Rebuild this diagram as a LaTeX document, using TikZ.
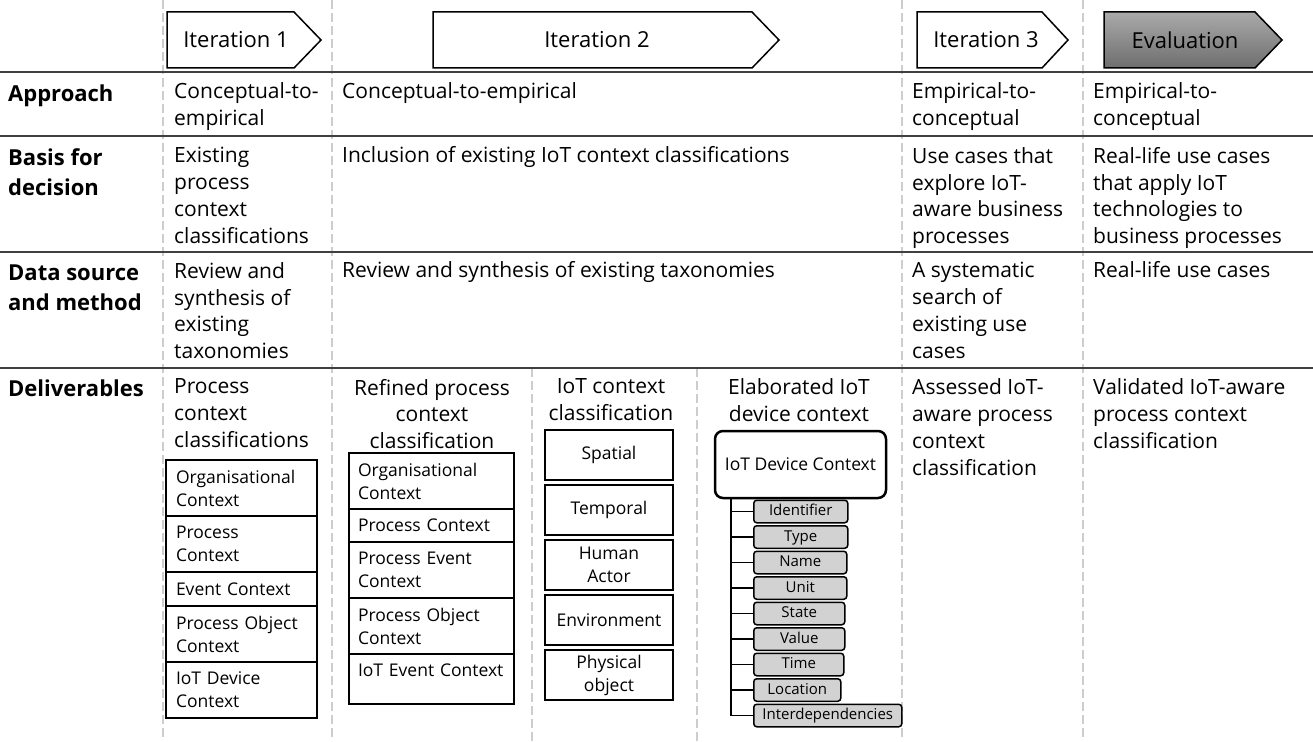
\documentclass[tikz,border=0pt]{standalone}
\usepackage{fontspec}
\setmainfont{Open Sans}
\usepackage{xcolor}
\definecolor{rule_gray}{RGB}{64,64,64}
\definecolor{dash_gray}{RGB}{205,205,205}
\definecolor{leaf_gray}{RGB}{210,210,210}
\definecolor{eval_top}{RGB}{170,170,170}
\definecolor{eval_bottom}{RGB}{110,110,110}
\usepackage{tikz}
\usetikzlibrary{positioning}

\tikzset{
  cell/.style={anchor=north west, inner sep=0pt, align=left, font=\fontsize{21}{26.7}\selectfont, execute at begin node=\strut},
  celltitle/.style={cell, anchor=north, align=center},
  rowlabel/.style={anchor=north west, inner sep=0pt, align=left, font=\bfseries\fontsize{22}{30}\selectfont, execute at begin node=\strut},
  stage/.style={draw=black, line width=1.5pt, fill=white},
  stagetext/.style={inner sep=0pt, font=\fontsize{22}{26}\selectfont},
  itembox/.style={draw, line width=1.3pt, outer sep=0pt, inner xsep=10pt, inner ysep=0pt, align=left, font=\fontsize{17.5}{23}\selectfont},
  pcc/.style={itembox, text width=131pt},
  rpc/.style={itembox, inner xsep=9pt, text width=147pt},
  iotbox/.style={draw, line width=2pt, outer sep=0pt, inner sep=0pt, minimum width=128pt, minimum height=50pt, align=center, font=\fontsize{17.5}{23}\selectfont},
  rootbox/.style={draw, line width=2.5pt, rounded corners=8pt, minimum width=171pt, minimum height=67pt, inner sep=0pt, font=\fontsize{17.5}{23}\selectfont},
  leaf/.style={draw, fill=leaf_gray, line width=1.5pt, rounded corners=3pt, anchor=west, minimum height=22.5pt, inner sep=0pt, text height=11pt, text depth=3pt, font=\fontsize{15}{18}\selectfont},
  branch/.style={line width=1.5pt},
  hrule/.style={draw=rule_gray, line width=2pt},
  vdash/.style={draw=dash_gray, line width=2.5pt, dash pattern=on 9pt off 4pt}
}

\begin{document}
\begin{tikzpicture}[x=1pt, y=-1pt]
\useasboundingbox (0,0) rectangle (1313,741);

% column separators
\foreach \x in {163,332,902,1083}
  \draw[vdash] (\x,0) -- (\x,741);
\foreach \x in {532,697}
  \draw[vdash] (\x,368) -- (\x,741);

% row separators
\foreach \y in {72,136,252,368}
  \draw[hrule] (0,\y) -- (1313,\y);

% stages
\draw[stage] (167,12) -- (294,12) -- (321,40) -- (294,68) -- (167,68) -- cycle;
\node[stagetext] (it1) at (236,40) {Iteration 1};
\draw[stage] (433,12) -- (752,12) -- (779,40) -- (752,68) -- (433,68) -- cycle;
\node[stagetext] (it2) at (597,40) {Iteration 2};
\draw[stage] (917,12) -- (1042,12) -- (1068,40) -- (1042,68) -- (917,68) -- cycle;
\node[stagetext] (it3) at (986,40) {Iteration 3};
\draw[stage, top color=eval_top, bottom color=eval_bottom] (1104,12) -- (1255,12) -- (1282,40) -- (1255,68) -- (1104,68) -- cycle;
\node[stagetext] (eval) at (1185,40) {Evaluation};

% row labels
\node[rowlabel] (approach) at (8,80) {Approach};
\node[rowlabel] (basis) at (8,148) {Basis for\\decision};
\node[rowlabel] (datasrc) at (8,265) {Data source\\and method};
\node[rowlabel] (deliv) at (8,375) {Deliverables};

% approach
\node[cell] (ap1) at (174,82.5) {Conceptual-to-\\empirical};
\node[cell] (ap2) at (342,79.3) {Conceptual-to-empirical};
\node[cell] (ap3) at (912,82.5) {Empirical-to-\\conceptual};
\node[cell] (ap4) at (1093,82.5) {Empirical-to-\\conceptual};

% basis for decision
\node[cell] (bd1) at (174,147.3) {Existing\\process\\context\\classifications};
\node[cell] (bd2) at (342,144.1) {Inclusion of existing IoT context classifications};
\node[cell] (bd3) at (912,147.3) {Use cases that\\explore IoT-\\aware business\\processes};
\node[cell] (bd4) at (1093,147.3) {Real-life use cases\\that apply IoT\\technologies to\\business processes};

% data source and method
\node[cell] (ds1) at (174,262.3) {Review and\\synthesis of\\existing\\taxonomies};
\node[cell] (ds2) at (342,259.1) {Review and synthesis of existing taxonomies};
\node[cell] (ds3) at (912,262.3) {A systematic\\search of\\existing use\\cases};
\node[cell] (ds4) at (1093,259.1) {Real-life use cases};

% deliverables
\node[cell] (dl1) at (174,378.8) {Process\\context\\classifications};
\node[celltitle] (dl2) at (432,378.8) {Refined process\\context\\classification};
\node[celltitle] (dl3) at (611,378.8) {IoT context\\classification};
\node[celltitle] (dl4) at (799,378.8) {Elaborated IoT\\device context};
\node[cell] (dl5) at (912,378.8) {Assessed IoT-\\aware process\\context\\classification};
\node[cell] (dl6) at (1093,378.8) {Validated IoT-aware\\process context\\classification};

% process context classifications
\node[pcc, minimum height=56pt, anchor=north west] (pcc1) at (166,460) {Organisational\\Context};
\node[pcc, minimum height=56pt, below=0pt of pcc1] (pcc2) {Process\\Context};
\node[pcc, minimum height=34pt, below=0pt of pcc2] (pcc3) {Event Context};
\node[pcc, minimum height=56pt, below=0pt of pcc3] (pcc4) {Process Object\\Context};
\node[pcc, minimum height=56pt, below=0pt of pcc4] (pcc5) {IoT Device\\Context};

% refined process context classification
\node[rpc, minimum height=56pt, anchor=north west] (rpc1) at (349,453) {Organisational\\Context};
\node[rpc, minimum height=33pt, below=0pt of rpc1] (rpc2) {Process Context};
\node[rpc, minimum height=56pt, below=0pt of rpc2] (rpc3) {Process Event\\Context};
\node[rpc, minimum height=56pt, below=0pt of rpc3] (rpc4) {Process Object\\Context};
\node[rpc, minimum height=50pt, below=0pt of rpc4] (rpc5) {\mbox{IoT Event Context}\\[-6pt]\mbox{}};

% IoT context classification
\node[iotbox, anchor=north west] (iot1) at (545,430) {Spatial};
\node[iotbox, below=5pt of iot1] (iot2) {Temporal};
\node[iotbox, below=5pt of iot2] (iot3) {Human\\Actor};
\node[iotbox, below=5pt of iot3] (iot4) {Environment};
\node[iotbox, below=5pt of iot4] (iot5) {Physical\\object};

% elaborated IoT device context
\node[rootbox] (iotdev) at (800.5,464.5) {IoT Device Context};
\coordinate (trunk) at ([xshift=17pt]iotdev.south west);
\foreach \name/\w [count=\i from 0] in {Identifier/94,Type/94,Name/93,Unit/93,State/91,Value/91,Time/90,Location/87,Interdependencies/148}
{
  \node[leaf, minimum width=\w pt] (leaf\i) at (753,511.5+25.5*\i) {\name};
  \draw[branch] (trunk) |- (leaf\i.west);
}

\end{tikzpicture}
\end{document}
